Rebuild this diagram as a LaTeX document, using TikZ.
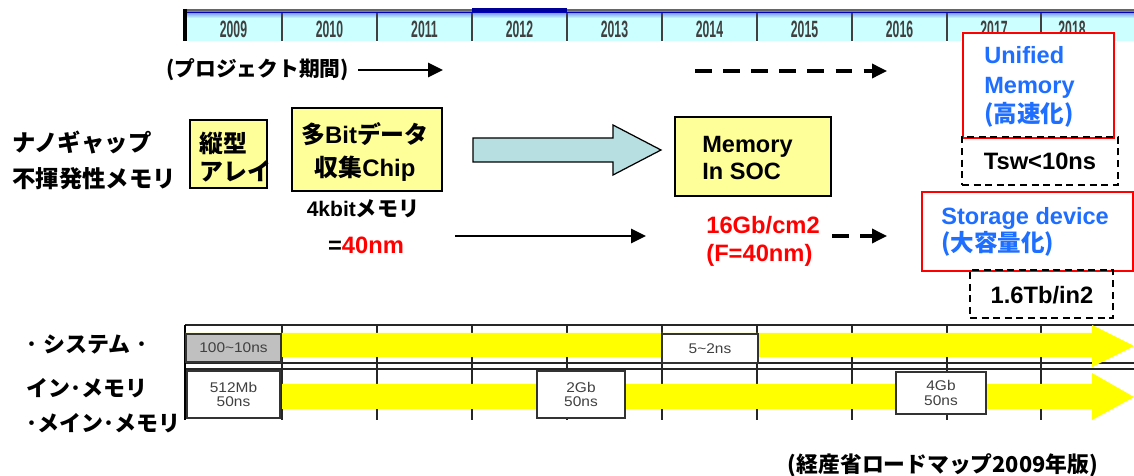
\documentclass[tikz,border=0pt]{standalone}
\usepackage{fontspec}
\setmainfont{Liberation Sans}
\newfontfamily\jp{Noto Sans CJK JP}
\usetikzlibrary{arrows.meta,fit}
\definecolor{hdrcyan}{HTML}{CCFFFF}
\definecolor{boxyel}{HTML}{FFFF99}
\definecolor{arrowblue}{HTML}{B7DEE1}
\definecolor{txtblue}{HTML}{1E6EFF}
\definecolor{bandyel}{HTML}{FFFF00}
\definecolor{cellgray}{HTML}{C0C0C0}
\definecolor{darkblue}{HTML}{000099}
\tikzset{
  ybox/.style={draw=black, line width=0.9pt, fill=boxyel, inner sep=0pt},
  redbox/.style={draw=red, line width=1.1pt, fill=white, inner sep=0pt},
  dbox/.style={draw=black, line width=1pt, dash pattern=on 4pt off 2.6pt, inner sep=0pt},
  cellbox/.style={draw=black!80, line width=0.8pt, fill=white, inner sep=0pt},
  txt/.style={inner sep=0pt, font=\bfseries\fontsize{13.5pt}{16pt}\selectfont},
  jtxt/.style={inner sep=0pt, font=\jp\bfseries\fontsize{13.3pt}{16pt}\selectfont},
  celltxt/.style={inner sep=0pt, font=\fontsize{8pt}{8.4pt}\selectfont, text=black!75, align=center},
  yearlbl/.style={inner sep=0pt, font=\bfseries\fontsize{13.4pt}{14pt}\selectfont, text=black!75},
  arr/.style={line width=1.5pt, -{Triangle[length=8.5pt,width=8pt]}},
  darr/.style={line width=1.8pt, dash pattern=on 9.5pt off 6.5pt, -{Triangle[length=8.5pt,width=8pt]}},
  tline/.style={line width=0.9pt, black!85},
}
\newcommand{\cond}[1]{\scalebox{1.1}[1]{#1}}
\begin{document}
\begin{tikzpicture}[x=0.02cm, y=-0.02cm]
\useasboundingbox (0,0) rectangle (1134,476);
\fill[white] (0,0) rectangle (1134,476);

% ---------- header ----------
\fill[hdrcyan] (185,12) rectangle (1134,41);
\shade[top color=blue!45!hdrcyan, bottom color=hdrcyan] (185,12) rectangle (1134,18);
\draw[line width=1.6pt, black!60] (185,10) -- (1134,10);
\draw[line width=2.6pt, darkblue] (472,10) -- (567,10);
\draw[line width=0.8pt, blue!75!black] (185,12.5) -- (1134,12.5);
\foreach \x in {282,377,472,567,662,757,852,947,1041}
  \draw[line width=0.9pt, black!75] (\x,13) -- (\x,41);
\draw[line width=1.8pt] (185,9) -- (185,41);
\foreach \x/\yr in {233.5/2009, 329.5/2010, 424.5/2011, 519.5/2012, 614.5/2013, 709.5/2014, 804.5/2015, 899.5/2016, 994/2017, 1072/2018}
  \node[yearlbl] (yr\yr) at (\x,29) {\scalebox{0.52}[1]{\yr}};

% ---------- upper part ----------
\node[jtxt, font=\jp\bfseries\fontsize{11.8pt}{14pt}\selectfont, anchor=west] (proj) at (166,70) {(プロジェクト期間)};
\coordinate (pa1) at (358,70);
\coordinate (pa2) at (443,70);
\draw[arr] (pa1) -- (pa2);
\coordinate (da1) at (695,71);
\coordinate (da2) at (887,71);
\draw[darr] (da1) -- (da2);

\node[jtxt, anchor=west, align=left, font=\jp\bfseries\fontsize{13.3pt}{20.4pt}\selectfont] (nano) at (12,160) {ナノギャップ\\不揮発性メモリ};

\node[ybox, fit={(190,120) (267,188)}] (tate) {};
\node[jtxt, anchor=west, align=left, font=\jp\bfseries\fontsize{13.6pt}{15.5pt}\selectfont] (tatetxt) at (199,157) {縦型\\アレイ};

\node[ybox, fit={(292,108) (442,191)}] (multi) {};
\node[txt, align=center, font=\bfseries\fontsize{13.6pt}{19.3pt}\selectfont] (multitxt) at (365,152) {{\jp 多}Bit{\jp データ}\\{\jp 収集}Chip};
\node[txt, font=\bfseries\fontsize{12pt}{14pt}\selectfont] (kbit) at (363,209) {4kbit{\jp メモリ}};
\node[txt] (nm40) at (366,245) {=\textcolor{red}{40nm}};

\fill[arrowblue, draw=black, line width=0.7pt]
  (473,138) -- (613,138) -- (613,125) -- (661,150) -- (613,175) -- (613,162) -- (473,162) -- cycle;

\node[ybox, fit={(675,117) (831,196)}] (soc) {};
\node[txt, anchor=west, align=left, font=\bfseries\fontsize{13.4pt}{15.9pt}\selectfont] (soctxt) at (702,158) {Memory\\In SOC};

\coordinate (sa1) at (455,236);
\coordinate (sa2) at (646,236);
\draw[arr] (sa1) -- (sa2);
\node[txt, anchor=west, align=left, text=red, font=\bfseries\fontsize{13.5pt}{15.9pt}\selectfont] (gb16) at (706,241) {16Gb/cm2\\(F=40nm)};
\coordinate (db1) at (832,236);
\coordinate (db2) at (887,236);
\draw[darr] (db1) -- (db2);

% right column
\node[redbox, fit={(963,33) (1114,138)}] (unif) {};
\node[txt, anchor=west, align=left, text=txtblue, font=\bfseries\fontsize{13.4pt}{17pt}\selectfont] (uniftxt) at (984,87) {Unified\\Memory\\{\jp (高速化)}};
\node[dbox, fit={(962,137) (1118,185)}] (tsw) {};
\node[txt] (tswtxt) at (1040,161) {Tsw<10ns};

\node[redbox, fit={(922,192) (1133,271)}] (stor) {};
\node[txt, anchor=west, align=left, text=txtblue, font=\bfseries\fontsize{13.4pt}{15.5pt}\selectfont] (stortxt) at (941,232) {Storage device\\{\jp (大容量化)}};
\node[dbox, fit={(970,270) (1113,318)}] (tb) {};
\node[txt] (tbtxt) at (1042,295) {1.6Tb/in2};

% ---------- table ----------
\draw[tline] (185,325) -- (1134,325);
\draw[tline] (185,363) -- (1134,363);
\draw[tline] (185,369) -- (1134,369);
\foreach \x in {282,377,472,567,662,757,852,947,1041}
  \draw[tline] (\x,325) -- (\x,420);
\draw[line width=1.6pt] (185,325) -- (185,420);

\fill[bandyel] (185,333) -- (1092,333) -- (1092,325) -- (1134,346) -- (1092,367) -- (1092,357) -- (185,357) -- cycle;
\fill[bandyel] (282,384) -- (1092,384) -- (1092,373) -- (1134,397) -- (1092,420) -- (1092,409) -- (282,409) -- cycle;

\node[cellbox, fill=cellgray, fit={(186,334) (281,362)}] (c1) {};
\node[celltxt] (c1t) at (c1.center) {\cond{100\textasciitilde10ns}};
\node[cellbox, fit={(662,334) (758,363)}] (c2) {};
\node[celltxt] (c2t) at (c2.center) {\cond{5\textasciitilde2ns}};
\node[cellbox, fit={(187,371) (280,418)}] (c3) {};
\node[celltxt] (c3t) at (c3.center) {\cond{512Mb}\\\cond{50ns}};
\node[cellbox, fit={(537,371) (625,418)}] (c4) {};
\node[celltxt] (c4t) at (c4.center) {\cond{2Gb}\\\cond{50ns}};
\node[cellbox, fit={(896,372) (986,414)}] (c5) {};
\node[celltxt] (c5t) at (c5.center) {\cond{4Gb}\\\cond{50ns}};

\node[jtxt, anchor=west, font=\jp\bfseries\fontsize{12.5pt}{14pt}\selectfont] (row1) at (26,344) {･\kern3.5pt システム\kern3.5pt ･};
\node[jtxt, anchor=west, font=\jp\bfseries\fontsize{12.5pt}{14pt}\selectfont] (row2) at (26,388) {イン･メモリ};
\node[jtxt, anchor=west, font=\jp\bfseries\fontsize{12.5pt}{14pt}\selectfont] (row3) at (26,423) {･メイン･メモリ};

\node[jtxt, font=\jp\bfseries\fontsize{12.4pt}{14pt}\selectfont] (foot) at (943,465) {(経産省ロードマップ2009年版)};
\end{tikzpicture}
\end{document}
